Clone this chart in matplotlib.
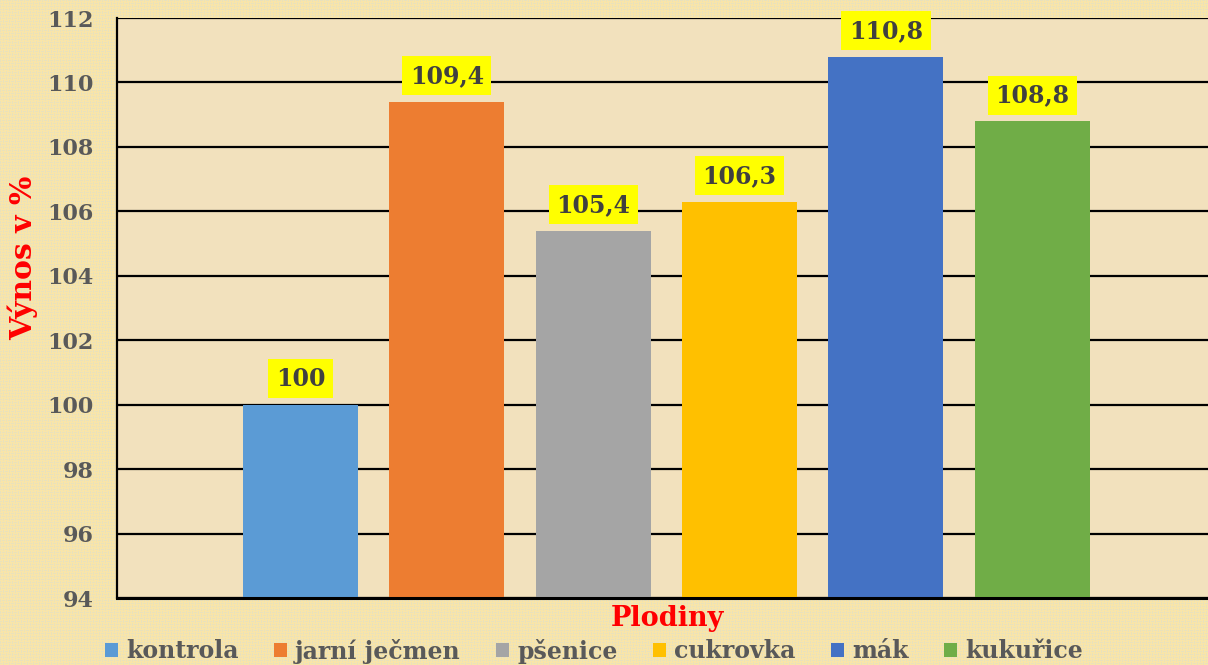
import numpy as np
import matplotlib
matplotlib.use("Agg")
import matplotlib.pyplot as plt

# data
plodiny = ["kontrola", "jarní ječmen", "pšenice", "cukrovka", "mák", "kukuřice"]
vynos = [100, 109.4, 105.4, 106.3, 110.8, 108.8]
popisky = ["100", "109,4", "105,4", "106,3", "110,8", "108,8"]
barvy = ["#5B9BD5", "#ED7D31", "#A5A5A5", "#FFC000", "#4472C4", "#70AD47"]
y_ticks = [94, 96, 98, 100, 102, 104, 106, 108, 110, 112]

plt.rcParams['font.family'] = ['DejaVu Serif']
plt.rcParams['font.weight'] = 'bold'

W, H = 1208, 665
fig = plt.figure(figsize=(W / 100, H / 100), dpi=100)

# patterned background (yellow with light blue dots)
tile = np.zeros((6, 6, 3))
tile[:, :] = [1.0, 0.90, 0.60]
blue = [0.74, 0.84, 0.93]
tile[0, ::2] = blue
tile[3, 1::2] = blue
tile[1::2, 0] = blue
tile[::2, 3] = blue
bg = np.tile(tile, (H // 6 + 1, W // 6 + 1, 1))[:H, :W]
bg = 0.25 * bg + 0.75 * np.array([0.97, 0.90, 0.68])
bg_ax = fig.add_axes([0, 0, 1, 1], zorder=-10)
bg_ax.imshow(bg, aspect='auto', interpolation='nearest')
bg_ax.axis('off')

left, right, top, bottom = 117, 1208, 18, 598
ax = fig.add_axes([left / W, 1 - bottom / H, (right - left) / W, (bottom - top) / H])
ax.set_facecolor("#F2E1BD")

x = np.arange(len(plodiny))
bars = ax.bar(x, [v - 94 for v in vynos], bottom=94, width=0.786, color=barvy,
              label=plodiny, zorder=3)

ax.set_ylim(94, 112)
ax.set_xlim(-1.253, 6.2)
ax.set_yticks(y_ticks)
ax.set_yticklabels([str(t) for t in y_ticks], fontsize=16, color="#595959", fontweight='bold')
ax.tick_params(axis='y', length=0, pad=17)
ax.set_xticks([])
ax.grid(axis='y', color='black', linewidth=1.6, zorder=1)

for s in ['top', 'right']:
    ax.spines[s].set_visible(False)
ax.spines['left'].set_linewidth(1.6)
ax.spines['bottom'].set_linewidth(2.2)
ax.spines['left'].set_zorder(4)
ax.spines['bottom'].set_zorder(4)

for xi, v, txt in zip(x, vynos, popisky):
    ax.annotate(txt, (xi, v), xytext=(0, 10), textcoords='offset points',
                ha='center', va='bottom', fontsize=17, fontweight='bold', color="#404040",
                bbox=dict(boxstyle='square,pad=0.32', fc='#FFFF00', ec='none'), zorder=5)

fig.text(23 / W, 1 - 258 / H, "Výnos v %", rotation=90, ha='center', va='center',
         fontsize=21.5, color='red', fontweight='bold')
fig.text(667 / W, 1 - 619 / H, "Plodiny", ha='center', va='center',
         fontsize=19.5, color='red', fontweight='bold')

fig.legend(handles=bars.patches, labels=plodiny, loc='center', ncol=6,
           bbox_to_anchor=(594 / W, 1 - 651 / H), frameon=False,
           prop={'size': 17, 'weight': 'bold'}, labelcolor="#595959",
           handlelength=0.55, handleheight=0.55, handletextpad=0.35, columnspacing=1.5,
           borderpad=0)

fig.savefig("out.png", dpi=100)
